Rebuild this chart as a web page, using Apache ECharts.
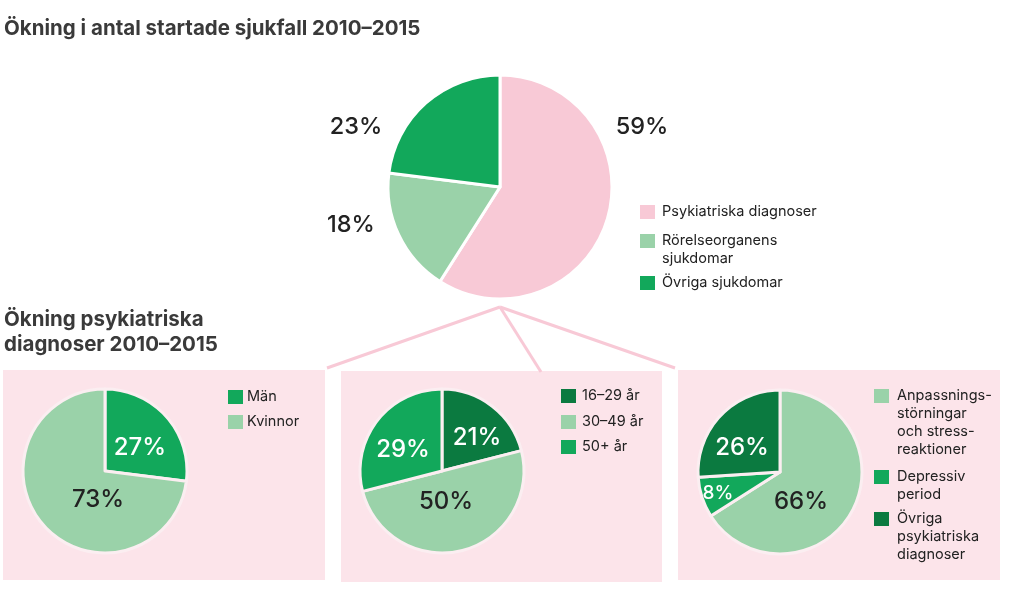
<!DOCTYPE html>
<html>
<head>
<meta charset="utf-8">
<script src="https://cdn.jsdelivr.net/npm/echarts@6/dist/echarts.min.js"></script>
<style>html,body{margin:0;padding:0;background:#fff}#c{width:1024px;height:608px}</style>
</head>
<body>
<div id="c"></div>
<script>
// ---- data ----
const mainCategories = ['Psykiatriska diagnoser', 'Rörelseorganens\nsjukdomar', 'Övriga sjukdomar'];
const mainValues = [59, 18, 23];
const genderCategories = ['Män', 'Kvinnor'];
const genderValues = [27, 73];
const ageCategories = ['16–29 år', '30–49 år', '50+ år'];
const ageValues = [21, 50, 29];
const diagCategories = ['Anpassnings-\nstörningar\noch stress-\nreaktioner', 'Depressiv\nperiod', 'Övriga\npsykiatriska\ndiagnoser'];
const diagValues = [66, 8, 26];

// ---- style ----
const FONT = 'Inter';
const PINK = '#f8c9d6', BOXBG = '#fce4ea';
const LIGHT = '#9ad2a9', GREEN = '#12a85b', DARK = '#0b7a40';
const TXT = '#222';

const chart = echarts.init(document.getElementById('c'), null, {renderer: 'canvas'});

const pies = [
  {cats: mainCategories, vals: mainValues, colors: [PINK, LIGHT, GREEN], labelColors: [TXT, TXT, TXT],
   center: [500, 187], r: 112, border: '#ffffff', fontSize: [23.5, 23.5, 23.5],
   labelPos: [[642, 127], [351, 225], [356, 127]],
   legend: {x: 640, ys: [212, 241, 283], tx: 662}},
  {cats: genderCategories, vals: genderValues, colors: [GREEN, LIGHT], labelColors: ['#fff', TXT],
   center: [105, 471], r: 82, border: '#fbeef1', fontSize: [24, 24],
   labelPos: [[140, 448], [98, 500]],
   legend: {x: 228, ys: [397, 422], tx: 247}},
  {cats: ageCategories, vals: ageValues, colors: [DARK, LIGHT, GREEN], labelColors: ['#fff', TXT, '#fff'],
   center: [442, 471], r: 82, border: '#fbeef1', fontSize: [24, 24, 24],
   labelPos: [[477, 438], [446, 502], [403, 450]],
   legend: {x: 561, ys: [396, 422, 447], tx: 582}},
  {cats: diagCategories, vals: diagValues, colors: [LIGHT, GREEN, DARK], labelColors: [TXT, '#fff', '#fff'],
   center: [780, 472], r: 82, border: '#fbeef1', fontSize: [24, 19, 24],
   labelPos: [[801, 502], [718, 493], [742, 448]],
   legend: {x: 874, ys: [396, 477, 519], tx: 897}}
];

const series = pies.map((p, si) => ({
  type: 'pie',
  center: p.center,
  radius: p.r,
  startAngle: 90,
  clockwise: true,
  silent: true,
  animation: false,
  avoidLabelOverlap: false,
  itemStyle: {borderColor: p.border, borderWidth: 3},
  label: {show: true, position: 'inside', formatter: '{c}%', fontFamily: FONT, fontWeight: 500},
  labelLine: {show: false},
  data: p.cats.map((c, i) => ({
    name: c, value: p.vals[i],
    itemStyle: {color: p.colors[i]},
    label: {color: p.labelColors[i], fontSize: p.fontSize[i]}
  })),
  labelLayout: (params) => {
    const pos = p.labelPos[params.dataIndex];
    return {x: pos[0], y: pos[1], align: 'center', verticalAlign: 'middle'};
  }
}));

const LH = 18;
const graphic = [];
// boxes
[[3, 370, 322, 210], [341, 371, 321, 211], [678, 370, 322, 210]].forEach(b => {
  graphic.push({type: 'rect', shape: {x: b[0], y: b[1], width: b[2], height: b[3]}, style: {fill: BOXBG}, z: 0, silent: true});
});
// connectors
[[327, 368], [541, 372], [675, 368]].forEach(e => {
  graphic.push({type: 'line', shape: {x1: 500, y1: 307, x2: e[0], y2: e[1]}, style: {stroke: PINK, lineWidth: 3}, z: 1, silent: true});
});
// titles
graphic.push({type: 'text', x: 4, y: 29, style: {text: 'Ökning i antal startade sjukfall 2010–2015', font: 'bold 20.5px ' + FONT, fill: '#3a3a3a', textVerticalAlign: 'middle'}});
graphic.push({type: 'text', x: 4, y: 307, style: {text: 'Ökning psykiatriska\ndiagnoser 2010–2015', font: 'bold 20.5px ' + FONT, lineHeight: 25, fill: '#3a3a3a', textVerticalAlign: 'top'}});
// legends
pies.forEach(p => {
  p.cats.forEach((c, i) => {
    const cy = p.legend.ys[i];
    graphic.push({type: 'rect', shape: {x: p.legend.x, y: cy - 7, width: 15, height: 14}, style: {fill: p.colors[i]}, z: 5, silent: true});
    graphic.push({type: 'text', x: p.legend.tx, y: cy - LH / 2, z: 5, silent: true,
      style: {text: c, font: '14.5px ' + FONT, lineHeight: LH, fill: TXT, textVerticalAlign: 'top'}});
  });
});

chart.setOption({
  animation: false,
  backgroundColor: '#fff',
  graphic: graphic,
  series: series
});
</script>
</body>
</html>
